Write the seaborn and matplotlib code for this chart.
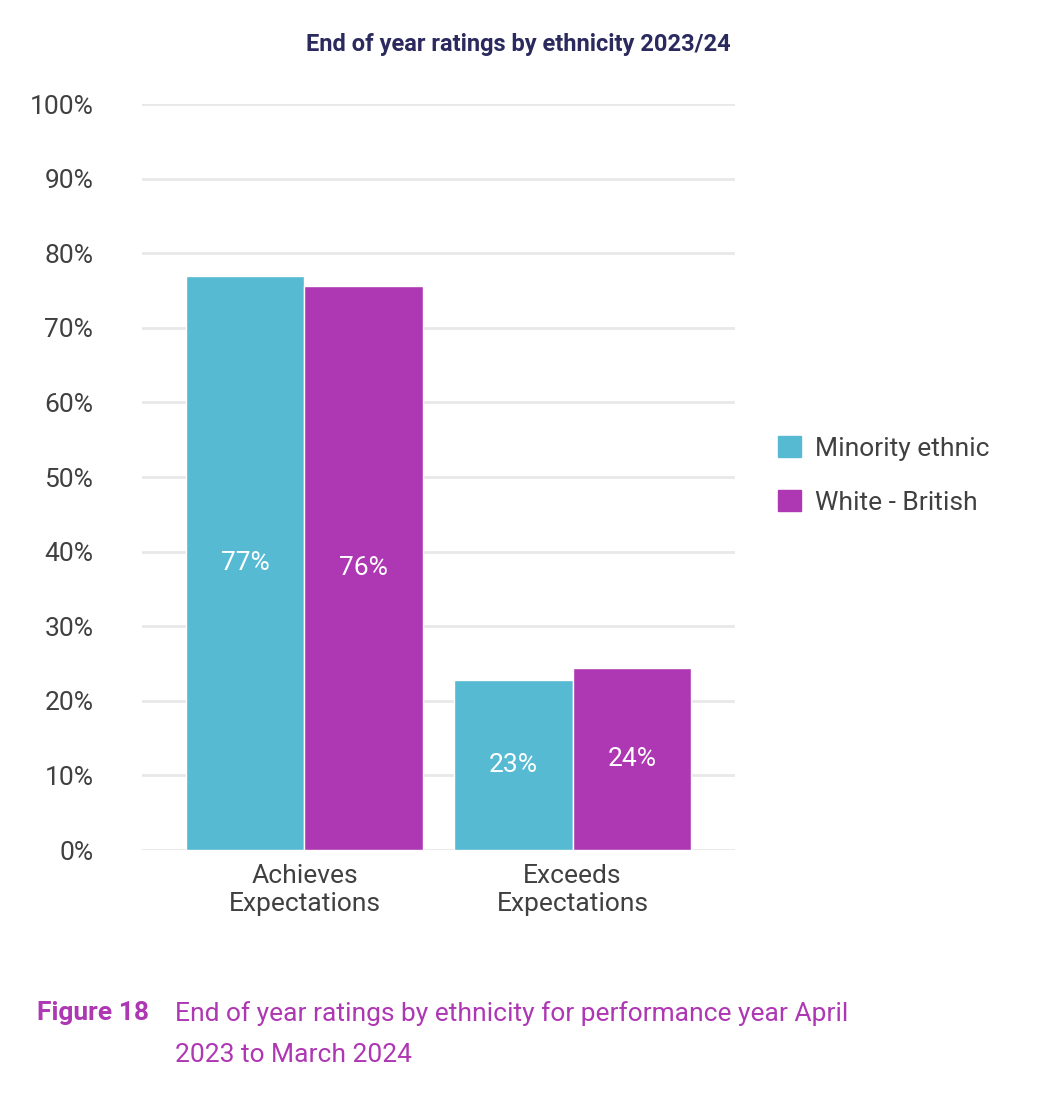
import matplotlib
matplotlib.use("Agg")
import matplotlib.pyplot as plt
import seaborn as sns
import pandas as pd
from matplotlib.patches import Patch

categories = ["Achieves\nExpectations", "Exceeds\nExpectations"]
minority = [77.0, 22.8]
white_british = [75.6, 24.4]
series_names = ["Minority ethnic", "White - British"]
labels_min = ["77%", "23%"]
labels_wb = ["76%", "24%"]
colors = ["#56BAD3", "#AE37B3"]

sns.set_theme(style="white")
plt.rcParams['font.family'] = ['Roboto', 'DejaVu Sans']

df = pd.DataFrame({
    "cat": categories * 2,
    "val": minority + white_british,
    "series": [series_names[0]] * 2 + [series_names[1]] * 2,
})

fig = plt.figure(figsize=(10.47, 11.10), dpi=100)
ax = fig.add_axes([0.1356, 0.2342, 0.566, 0.672])
sns.barplot(data=df, x="cat", y="val", hue="series", palette=colors,
            width=0.884, saturation=1, ax=ax, legend=False)
for c, labs in zip(ax.containers, [labels_min, labels_wb]):
    ax.bar_label(c, labels=labs, label_type="center", color="white", fontsize=19)

ax.set_ylim(0, 100)
ax.set_xlim(-0.606, 1.604)
ax.set_yticks(range(0, 101, 10))
ax.set_yticklabels([f"{v}%" for v in range(0, 101, 10)], fontsize=19, color="#404040")
ax.tick_params(axis="x", labelsize=19, colors="#404040", length=0, pad=10)
ax.tick_params(axis="y", length=0, pad=35)
ax.yaxis.grid(True, color="#E8E8E8", linewidth=2)
ax.set_axisbelow(True)
ax.set_xlabel("")
ax.set_ylabel("")
for s in ax.spines.values():
    s.set_visible(False)

fig.text(0.495, 0.96, "End of year ratings by ethnicity 2023/24", ha="center", va="center",
         fontsize=17, fontweight="bold", color="#2B2A5E")

handles = [Patch(color=colors[0]), Patch(color=colors[1])]
fig.legend(handles, series_names, loc="center left", bbox_to_anchor=(0.72, 0.572),
           frameon=False, fontsize=19, labelcolor="#404040", handlelength=0.9,
           handleheight=0.9, handletextpad=0.5, labelspacing=1.1)

fig.text(0.035, 0.087, "Figure 18", fontsize=19, fontweight="bold", color="#AE37B3", va="center")
fig.text(0.167, 0.087, "End of year ratings by ethnicity for performance year April",
         fontsize=19, color="#AE37B3", va="center")
fig.text(0.167, 0.05, "2023 to March 2024", fontsize=19, color="#AE37B3", va="center")

fig.savefig("out.png", dpi=100)
